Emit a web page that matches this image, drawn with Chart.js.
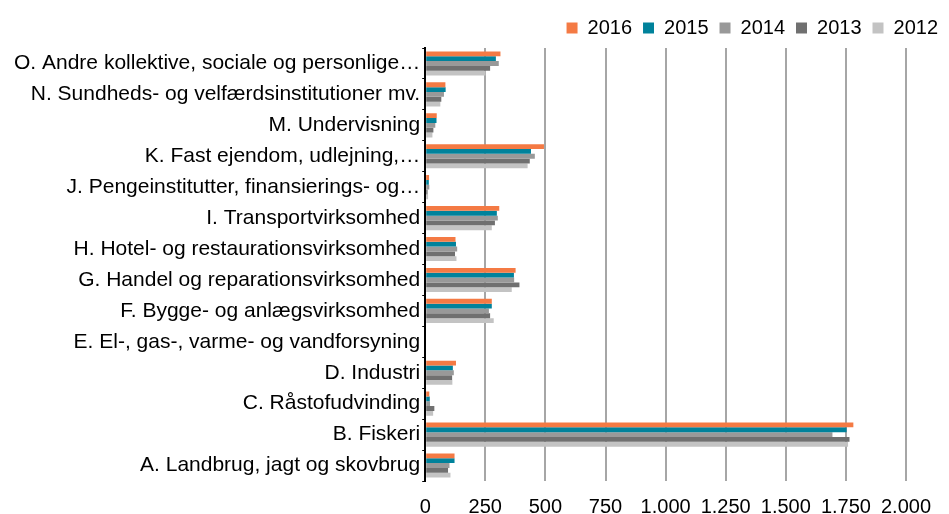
<!DOCTYPE html>
<html>
<head>
<meta charset="utf-8">
<script src="https://cdn.jsdelivr.net/npm/chart.js@4"></script>
<style>
  html, body { margin: 0; padding: 0; background: #fff; }
  #wrap { width: 949px; height: 514px; position: relative; }
</style>
</head>
<body>
<div id="wrap"><canvas id="chart"></canvas></div>
<script>
// Branches, top to bottom as in the picture
const branches = [
  'O. Andre kollektive, sociale og personlige…',
  'N. Sundheds- og velfærdsinstitutioner mv.',
  'M. Undervisning',
  'K. Fast ejendom, udlejning,…',
  'J. Pengeinstitutter, finansierings- og…',
  'I. Transportvirksomhed',
  'H. Hotel- og restaurationsvirksomhed',
  'G. Handel og reparationsvirksomhed',
  'F. Bygge- og anlægsvirksomhed',
  'E. El-, gas-, varme- og vandforsyning',
  'D. Industri',
  'C. Råstofudvinding',
  'B. Fiskeri',
  'A. Landbrug, jagt og skovbrug'
];

const v2016 = [313, 84, 48, 494, 16, 308, 126, 376, 277, 0, 128, 17, 1781, 122];
const v2015 = [294, 85, 47, 440, 15, 298, 128, 369, 277, 0, 115, 19, 1753, 122];
const v2014 = [306, 78, 42, 456, 17, 302, 133, 370, 265, 0, 119, 20, 1694, 101];
const v2013 = [270, 67, 34, 435, 10, 290, 124, 392, 270, 0, 112, 38, 1765, 95];
const v2012 = [251, 63, 30, 426, 12, 277, 130, 360, 285, 0, 113, 33, 1759, 105];

const xTicks = [0, 250, 500, 750, 1000, 1250, 1500, 1750, 2000];

const FONT = { family: 'Liberation Sans, Arial, sans-serif', size: 20 };
const LABEL_FONT = { family: 'Liberation Sans, Arial, sans-serif', size: 21 };

function ds(label, data, color) {
  return {
    label,
    data,
    backgroundColor: color,
    borderWidth: 0,
    barPercentage: 1.0,
    categoryPercentage: 0.78,
  };
}

new Chart(document.getElementById('chart'), {
  type: 'bar',
  data: {
    labels: branches,
    datasets: [
      ds('2016', v2016, '#f47a44'),
      ds('2015', v2015, '#00829b'),
      ds('2014', v2014, '#999999'),
      ds('2013', v2013, '#707070'),
      ds('2012', v2012, '#c3c3c3'),
    ]
  },
  options: {
    indexAxis: 'y',
    responsive: true,
    maintainAspectRatio: false,
    animation: false,
    layout: { padding: { left: 12, right: 0, top: 7, bottom: 0 } },
    plugins: {
      legend: {
        display: true,
        position: 'top',
        align: 'end',
        labels: { color: '#000', font: FONT, boxWidth: 11, boxHeight: 11, padding: 11 }
      },
      tooltip: { enabled: false }
    },
    scales: {
      x: {
        min: 0, max: 2000,
        afterBuildTicks: axis => { axis.ticks = xTicks.map(v => ({ value: v })); },
        afterFit: s => { s.paddingRight = 43; s.height = 33; },
        grid: {
          color: ctx => ctx.tick && ctx.tick.value === 0 ? 'rgba(0,0,0,0)' : '#a6a6a6',
          lineWidth: 2,
          drawTicks: false,
        },
        border: { display: false },
        ticks: {
          color: '#000', font: FONT, padding: 14, maxRotation: 0,
          callback: v => v.toLocaleString('da-DK')
        }
      },
      y: {
        grid: { drawOnChartArea: false, drawTicks: true, tickLength: 3, color: '#000', lineWidth: 1 },
        border: { display: true, color: '#000', width: 2 },
        ticks: { color: '#000', font: LABEL_FONT, padding: 2, autoSkip: false }
      }
    }
  }
});
</script>
</body>
</html>
